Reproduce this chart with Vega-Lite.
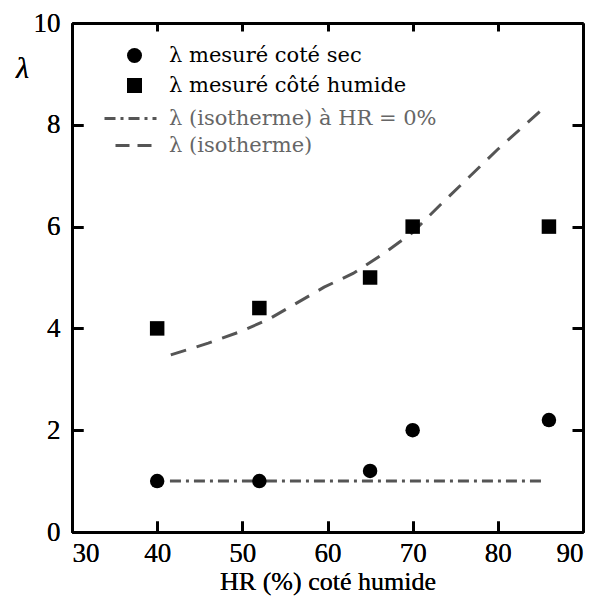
{
  "$schema": "https://vega.github.io/schema/vega-lite/v6.json",
  "width": 511,
  "height": 509,
  "autosize": {"type": "none"},
  "padding": {"left": 72, "top": 23, "right": 17, "bottom": 69},
  "background": "white",
  "config": {
    "view": {"stroke": null},
    "axis": {
      "domainColor": "black", "domainWidth": 3, "tickColor": "black", "tickWidth": 3,
      "grid": false, "labelFont": "Liberation Serif", "labelFontSize": 27, "labelColor": "black",
      "titleFont": "Liberation Serif", "titleFontSize": 26, "titleColor": "black", "titleFontWeight": "normal"
    },
    "legend": {"labelFont": "DejaVu Serif", "labelFontSize": 21, "labelLimit": 400, "padding": 0}
  },
  "datasets": {
    "pts": [
      {"hr": 40, "lam": 1.0, "serie": "λ mesuré coté sec"},
      {"hr": 52, "lam": 1.0, "serie": "λ mesuré coté sec"},
      {"hr": 65, "lam": 1.2, "serie": "λ mesuré coté sec"},
      {"hr": 70, "lam": 2.0, "serie": "λ mesuré coté sec"},
      {"hr": 86, "lam": 2.2, "serie": "λ mesuré coté sec"},
      {"hr": 40, "lam": 4.0, "serie": "λ mesuré côté humide"},
      {"hr": 52, "lam": 4.4, "serie": "λ mesuré côté humide"},
      {"hr": 65, "lam": 5.0, "serie": "λ mesuré côté humide"},
      {"hr": 70, "lam": 6.0, "serie": "λ mesuré côté humide"},
      {"hr": 86, "lam": 6.0, "serie": "λ mesuré côté humide"}
    ],
    "isoHR0": [
      {"hr": 41.5, "lam": 1.0, "courbe": "λ (isotherme) à HR = 0%"},
      {"hr": 85.5, "lam": 1.0, "courbe": "λ (isotherme) à HR = 0%"}
    ],
    "iso": [
      {"hr": 41.6, "lam": 3.48, "modele": "λ (isotherme)"},
      {"hr": 46.0, "lam": 3.71, "modele": "λ (isotherme)"},
      {"hr": 49.5, "lam": 3.92, "modele": "λ (isotherme)"},
      {"hr": 53.0, "lam": 4.17, "modele": "λ (isotherme)"},
      {"hr": 56.2, "lam": 4.48, "modele": "λ (isotherme)"},
      {"hr": 59.6, "lam": 4.81, "modele": "λ (isotherme)"},
      {"hr": 63.0, "lam": 5.08, "modele": "λ (isotherme)"},
      {"hr": 66.5, "lam": 5.46, "modele": "λ (isotherme)"},
      {"hr": 69.9, "lam": 5.87, "modele": "λ (isotherme)"},
      {"hr": 73.2, "lam": 6.42, "modele": "λ (isotherme)"},
      {"hr": 76.6, "lam": 6.97, "modele": "λ (isotherme)"},
      {"hr": 80.0, "lam": 7.52, "modele": "λ (isotherme)"},
      {"hr": 85.0, "lam": 8.27, "modele": "λ (isotherme)"}
    ]
  },
  "layer": [
    {
      "data": {"name": "isoHR0"},
      "mark": {"type": "line", "color": "#555555", "strokeWidth": 3},
      "encoding": {
        "x": {"field": "hr", "type": "quantitative", "scale": {"domain": [30, 90], "nice": false},
          "axis": {"orient": "bottom", "values": [30, 40, 50, 60, 70, 80, 90], "tickSize": -11, "labelPadding": 19, "title": "HR (%) coté humide", "titlePadding": 2}},
        "y": {"field": "lam", "type": "quantitative", "scale": {"domain": [0, 10], "nice": false},
          "axis": {"orient": "left", "values": [0, 2, 4, 6, 8, 10], "tickSize": -11, "labelPadding": 23, "title": "λ", "titleFontStyle": "italic", "titleFontSize": 30, "titleAngle": 0, "titleX": -50, "titleY": 45, "titleAlign": "center", "titleBaseline": "middle"}},
        "strokeDash": {"field": "courbe", "type": "nominal",
          "scale": {"domain": ["λ (isotherme) à HR = 0%"], "range": [[11, 5, 3, 5]]},
          "legend": {"title": null, "orient": "none", "legendX": 48, "legendY": 85, "symbolType": "M-6.5,0H6.5", "symbolSize": 64,
            "symbolStrokeWidth": 3, "symbolStrokeColor": "#555555", "symbolDash": [8, 4, 3, 4], "labelOffset": 28, "labelColor": "#666666"}}
      }
    },
    {
      "data": {"name": "iso"},
      "mark": {"type": "line", "strokeWidth": 3, "strokeDash": [16, 11]},
      "encoding": {
        "x": {"field": "hr", "type": "quantitative",
          "axis": {"orient": "bottom", "values": [30, 40, 50, 60, 70, 80, 90], "tickSize": -11, "labelPadding": 19, "title": "HR (%) coté humide", "titlePadding": 2}},
        "y": {"field": "lam", "type": "quantitative",
          "axis": {"orient": "left", "values": [0, 2, 4, 6, 8, 10], "tickSize": -11, "labelPadding": 23, "title": "λ", "titleFontStyle": "italic", "titleFontSize": 30, "titleAngle": 0, "titleX": -50, "titleY": 45, "titleAlign": "center", "titleBaseline": "middle"}},
        "color": {"field": "modele", "type": "nominal",
          "scale": {"domain": ["λ (isotherme)"], "range": ["#555555"]},
          "legend": {"title": null, "orient": "none", "legendX": 53, "legendY": 112, "symbolType": "M-5,0H5", "symbolSize": 64,
            "symbolStrokeWidth": 3, "symbolDash": [14, 8], "labelOffset": 23, "labelColor": "#666666"}}
      }
    },
    {
      "data": {"name": "pts"},
      "mark": {"type": "point", "filled": true, "color": "black", "opacity": 1, "size": 210},
      "encoding": {
        "x": {"field": "hr", "type": "quantitative",
          "axis": {"orient": "top", "values": [30, 40, 50, 60, 70, 80, 90], "tickSize": -8, "labels": false, "title": null}},
        "y": {"field": "lam", "type": "quantitative",
          "axis": {"orient": "right", "values": [0, 2, 4, 6, 8, 10], "tickSize": -11, "labels": false, "title": null}},
        "shape": {"field": "serie", "type": "nominal",
          "scale": {"domain": ["λ mesuré coté sec", "λ mesuré côté humide"], "range": ["circle", "square"]},
          "legend": {"title": null, "orient": "none", "legendX": 52, "legendY": 22, "symbolSize": 225, "symbolFillColor": "black",
            "symbolOpacity": 1, "rowPadding": 8, "labelOffset": 24, "labelColor": "black"}}
      }
    }
  ]
}
